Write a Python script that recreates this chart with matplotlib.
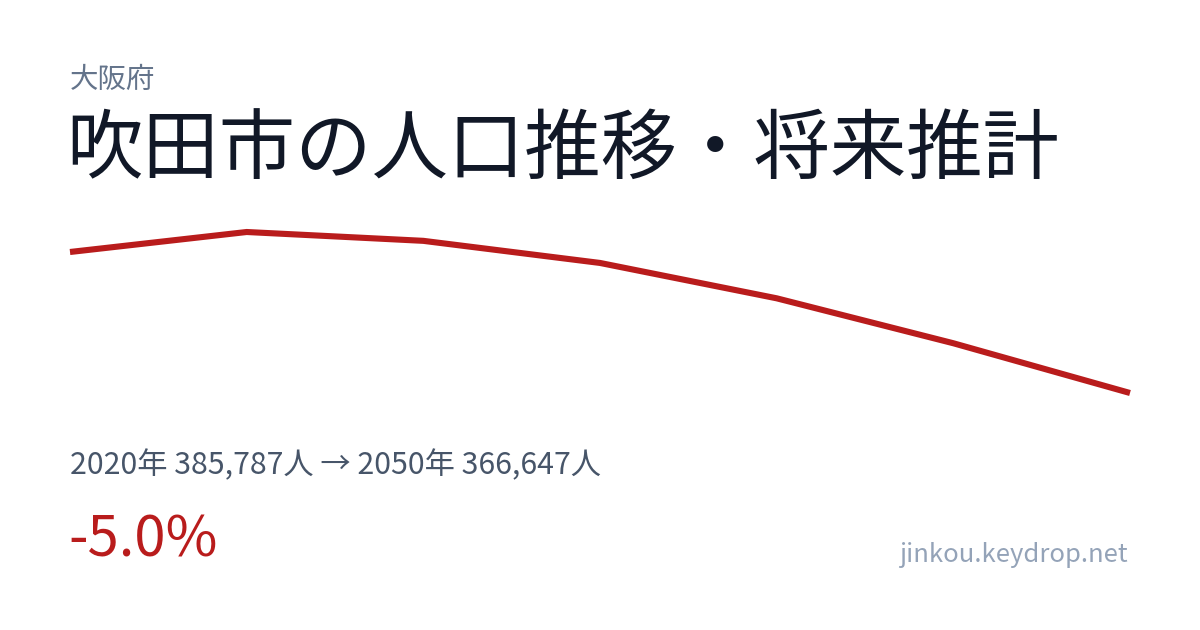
import matplotlib.pyplot as plt

plt.rcParams['font.family'] = ['Noto Sans CJK JP', 'DejaVu Sans']

# data
years = [2020, 2025, 2030, 2035, 2040, 2045, 2050]
population = [385787, 388500, 387300, 384300, 379500, 373400, 366647]

prefecture = "大阪府"
title = "吹田市の人口推移・将来推計"
summary = "2020年 385,787人 → 2050年 366,647人"
change = "-5.0%"
site = "jinkou.keydrop.net"

W, H = 1200, 630
fig = plt.figure(figsize=(W / 100, H / 100), dpi=100)
fig.patch.set_facecolor('white')

# line area: x 70..1130 px, y 232..393 px (top..bottom)
ax = fig.add_axes([70 / W, 1 - 393 / H, 1060 / W, (393 - 232) / H])
ax.plot(years, population, color='#b91c1c', lw=4.4, clip_on=False,
        solid_joinstyle='miter', solid_capstyle='butt')
ax.set_xlim(min(years), max(years))
ax.set_ylim(min(population), max(population))
ax.axis('off')

fig.text(70 / W, 1 - 80 / H, prefecture, fontsize=20.5, color='#64748b', va='center', ha='left')
fig.text(66 / W, 1 - 152 / H, title, fontsize=55, color='#111827', va='center', ha='left')
fig.text(70 / W, 1 - 465 / H, summary, fontsize=21.8, color='#475569', va='center', ha='left')
fig.text(68 / W, 1 - 541 / H, change, fontsize=40.5, color='#b91c1c', va='center', ha='left')
fig.text(1128 / W, 1 - 555 / H, site, fontsize=18.5, color='#94a3b8', va='center', ha='right')

fig.savefig('out.png', dpi=100, facecolor='white')
